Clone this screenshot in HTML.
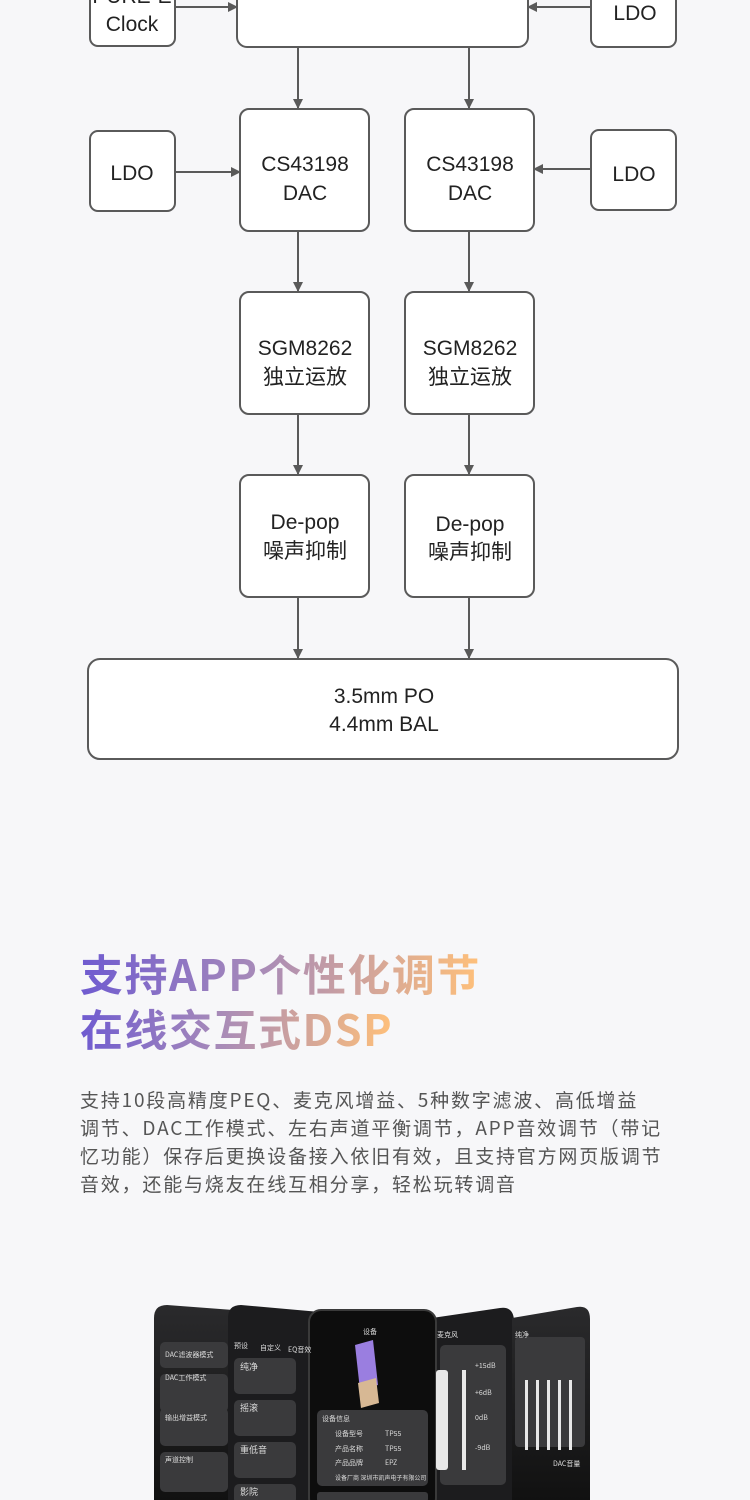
<!DOCTYPE html>
<html><head><meta charset="utf-8">
<style>
html,body{margin:0;padding:0;background:#f7f7f9;}
body{width:750px;height:1500px;overflow:hidden;position:relative;font-family:"Liberation Sans","Noto Sans CJK SC",sans-serif;}
svg{position:absolute;left:0;top:0;}
.h{position:absolute;left:80px;font-size:43px;letter-spacing:1.5px;font-weight:bold;line-height:56px;font-family:"Noto Sans CJK SC","Liberation Sans",sans-serif;
background:linear-gradient(90deg,#6f5bd0 0%,#a88bb8 45%,#ffc07a 100%);-webkit-background-clip:text;background-clip:text;color:transparent;white-space:nowrap;}
.p{position:absolute;left:80px;top:1086px;width:680px;font-size:19px;letter-spacing:1.8px;line-height:28px;color:#555;font-family:"Noto Sans CJK SC",sans-serif;white-space:nowrap;}
</style></head><body>
<svg width="750" height="1500" viewBox="0 0 750 1500" font-family="'Liberation Sans','Noto Sans CJK SC',sans-serif">
<defs>
<marker id="a" markerWidth="10" markerHeight="10" refX="9" refY="5" orient="auto" markerUnits="userSpaceOnUse">
<path d="M0,0 L10,5 L0,10 z" fill="#5a5a5a"/></marker>
<linearGradient id="ph" x1="0" y1="0" x2="0" y2="1"><stop offset="0" stop-color="#2a2a2c"/><stop offset="1" stop-color="#111"/></linearGradient>
</defs>
<g fill="#fff" stroke="#5a5a5a" stroke-width="2">
<rect x="90" y="-30" width="85" height="76" rx="8"/>
<rect x="237" y="-30" width="291" height="77" rx="10"/>
<rect x="591" y="-30" width="85" height="77" rx="8"/>
<rect x="240" y="109" width="129" height="122" rx="9"/>
<rect x="405" y="109" width="129" height="122" rx="9"/>
<rect x="90" y="131" width="85" height="80" rx="8"/>
<rect x="591" y="130" width="85" height="80" rx="8"/>
<rect x="240" y="292" width="129" height="122" rx="9"/>
<rect x="405" y="292" width="129" height="122" rx="9"/>
<rect x="240" y="475" width="129" height="122" rx="9"/>
<rect x="405" y="475" width="129" height="122" rx="9"/>
<rect x="88" y="659" width="590" height="100" rx="12"/>
</g>
<g stroke="#5a5a5a" stroke-width="2" fill="none" marker-end="url(#a)">
<line x1="175" y1="7" x2="237" y2="7"/>
<line x1="591" y1="7" x2="528" y2="7"/>
<line x1="298" y1="47" x2="298" y2="108"/>
<line x1="469" y1="47" x2="469" y2="108"/>
<line x1="175" y1="172" x2="240" y2="172"/>
<line x1="591" y1="169" x2="534" y2="169"/>
<line x1="298" y1="231" x2="298" y2="291"/>
<line x1="469" y1="231" x2="469" y2="291"/>
<line x1="298" y1="414" x2="298" y2="474"/>
<line x1="469" y1="414" x2="469" y2="474"/>
<line x1="298" y1="597" x2="298" y2="658"/>
<line x1="469" y1="597" x2="469" y2="658"/>
</g>
<g font-size="21" fill="#222" text-anchor="middle">
<text x="132" y="3">PURE-E</text><text x="132" y="31">Clock</text>
<text x="635" y="20">LDO</text>
<text x="132" y="180">LDO</text><text x="634" y="181">LDO</text>
<text x="305" y="171">CS43198</text><text x="305" y="200">DAC</text>
<text x="470" y="171">CS43198</text><text x="470" y="200">DAC</text>
<text x="305" y="355">SGM8262</text><text x="305" y="384">独立运放</text>
<text x="470" y="355">SGM8262</text><text x="470" y="384">独立运放</text>
<text x="305" y="529">De-pop</text><text x="305" y="558">噪声抑制</text>
<text x="470" y="531">De-pop</text><text x="470" y="559">噪声抑制</text>
<text x="384" y="703">3.5mm PO</text><text x="384" y="731">4.4mm BAL</text>
</g>
<g>
<path d="M154,1318 q0,-13 13,-13 L260,1312 L260,1500 L154,1500 z" fill="url(#ph)"/>
<path d="M228,1318 q0,-13 13,-13 L320,1312 L320,1500 L228,1500 z" fill="#1c1c1e"/>
<path d="M432,1318 L500,1308 q13,-2 14,12 L515,1500 L432,1500 z" fill="#1c1c1e"/>
<path d="M512,1318 L577,1307 q13,-2 13,12 L590,1500 L512,1500 z" fill="url(#ph)"/>
<rect x="309" y="1310" width="127" height="200" rx="12" fill="#0d0d0d" stroke="#3a3a3a" stroke-width="2"/>
<g fill="#3a3a3c">
<rect x="160" y="1342" width="68" height="26" rx="5"/><rect x="160" y="1374" width="68" height="38" rx="5"/>
<rect x="160" y="1408" width="68" height="38" rx="5"/><rect x="160" y="1452" width="68" height="40" rx="5"/>
<rect x="234" y="1358" width="62" height="36" rx="5"/><rect x="234" y="1400" width="62" height="36" rx="5"/>
<rect x="234" y="1442" width="62" height="36" rx="5"/><rect x="234" y="1484" width="62" height="20" rx="5"/>
<rect x="317" y="1410" width="111" height="76" rx="5"/><rect x="317" y="1492" width="111" height="10" rx="3"/>
<rect x="440" y="1345" width="66" height="140" rx="5"/><rect x="515" y="1337" width="70" height="110" rx="4"/>
</g>
<g fill="#e8e8e8">
<rect x="462" y="1370" width="4" height="100"/><rect x="436" y="1370" width="12" height="100" rx="3"/>
<rect x="525" y="1380" width="3" height="70"/><rect x="536" y="1380" width="3" height="70"/><rect x="547" y="1380" width="3" height="70"/>
<rect x="558" y="1380" width="3" height="70"/><rect x="569" y="1380" width="3" height="70"/>
</g>
<path d="M355,1345 l18,-5 l5,45 l-18,5 z" fill="#9a7ee0"/><path d="M358,1383 l18,-5 l3,25 l-18,5 z" fill="#d7b894"/>
<g font-size="7" fill="#ddd" font-family="'Noto Sans CJK SC',sans-serif">
<text x="165" y="1357">DAC滤波器模式</text><text x="165" y="1380">DAC工作模式</text><text x="165" y="1420">输出增益模式</text>
<text x="165" y="1462">声道控制</text><text x="240" y="1370" font-size="9">纯净</text><text x="240" y="1411" font-size="9">摇滚</text>
<text x="240" y="1453" font-size="9">重低音</text><text x="240" y="1495" font-size="9">影院</text>
<text x="234" y="1348">预设</text><text x="260" y="1350">自定义</text><text x="288" y="1352">EQ音效</text>
<text x="363" y="1334">设备</text><text x="322" y="1421">设备信息</text><text x="335" y="1436">设备型号</text><text x="385" y="1436">TP55</text>
<text x="335" y="1451">产品名称</text><text x="385" y="1451">TP55</text><text x="335" y="1465">产品品牌</text><text x="385" y="1465">EPZ</text>
<text x="335" y="1480" font-size="6">设备厂商  深圳市凯声电子有限公司</text>
<text x="437" y="1337">麦克风</text><text x="475" y="1368">+15dB</text><text x="475" y="1395">+6dB</text><text x="475" y="1420">0dB</text><text x="475" y="1450">-9dB</text>
<text x="515" y="1337">纯净</text><text x="553" y="1466">DAC音量</text>
</g>
</g>
</svg>
<div class="h" style="top:945px">支持APP个性化调节</div>
<div class="h" style="top:1000px">在线交互式DSP</div>
<div class="p">支持10段高精度PEQ、麦克风增益、5种数字滤波、高低增益<br>调节、DAC工作模式、左右声道平衡调节，APP音效调节（带记<br>忆功能）保存后更换设备接入依旧有效，且支持官方网页版调节<br>音效，还能与烧友在线互相分享，轻松玩转调音</div>
</body></html>
